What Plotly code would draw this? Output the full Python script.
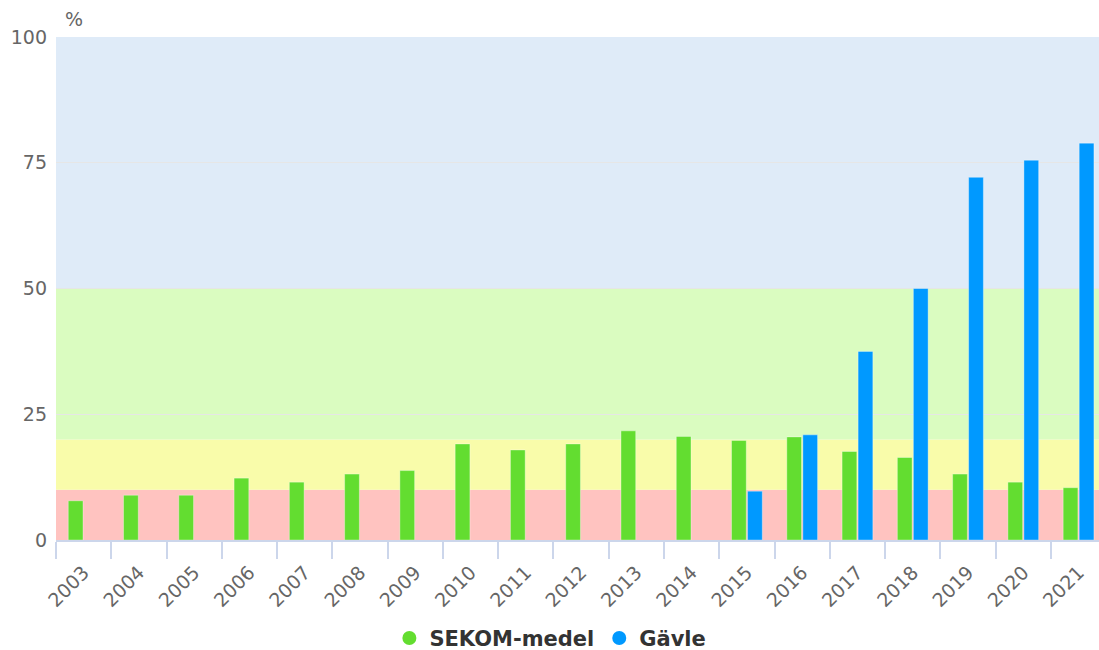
import plotly.graph_objects as go

years = [str(y) for y in range(2003, 2022)]
sekom_medel = [7.8, 8.9, 8.9, 12.3, 11.5, 13.1, 13.8, 19.1, 17.9, 19.1, 21.7, 20.6,
               19.8, 20.5, 17.6, 16.4, 13.1, 11.5, 10.4]
gavle = [None] * 12 + [9.7, 20.9, 37.5, 50.0, 72.1, 75.5, 78.9]

# value bands behind the bars: (from, to, colour)
bands = [
    (0, 10, "#FFC3C0"),
    (10, 20, "#F9FCAA"),
    (20, 50, "#DAFCC0"),
    (50, 100, "#DFEBF8"),
]

GREEN = "#63DD30"
BLUE = "#0099FF"
FONT = "DejaVu Sans"

fig = go.Figure()
fig.add_trace(go.Bar(x=years, y=sekom_medel, name="SEKOM-medel", marker_color=GREEN,
                     marker_line=dict(color="rgba(255,255,255,0.35)", width=1),
                     showlegend=False))
fig.add_trace(go.Bar(x=years, y=gavle, name="Gävle", marker_color=BLUE,
                     marker_line=dict(color="rgba(255,255,255,0.35)", width=1),
                     showlegend=False))

# round legend symbols
for name, col in [("SEKOM-medel", GREEN), ("Gävle", BLUE)]:
    fig.add_trace(go.Scatter(x=[None], y=[None], mode="markers", name=f"<b>{name}</b>",
                             marker=dict(color=col, size=14, symbol="circle")))

for lo, hi, col in bands:
    fig.add_shape(type="rect", xref="paper", yref="y", x0=0, x1=1, y0=lo, y1=hi,
                  fillcolor=col, line_width=0, layer="below")

fig.add_annotation(text="%", xref="paper", yref="paper", x=0.017, y=1.036,
                   xanchor="center", yanchor="middle",
                   showarrow=False, font=dict(family=FONT, size=19, color="#666666"))

fig.update_layout(
    width=1099, height=650,
    margin=dict(l=56, r=0, t=37, b=110, autoexpand=False),
    paper_bgcolor="white", plot_bgcolor="white",
    barmode="group", bargap=0.42, bargroupgap=0.08,
    font=dict(family=FONT, color="#666666"),
    legend=dict(orientation="h", x=0.474, xanchor="center",
                yref="container", y=0.018, yanchor="middle",
                font=dict(family=FONT, size=21, color="#333333"), itemsizing="trace"),
    xaxis=dict(type="category", range=[-0.5, 18.37], tickangle=-45, automargin=False,
               tickfont=dict(size=19, color="#666666"),
               showgrid=False, showline=True, linecolor="#CCD6EB", linewidth=2,
               ticks="outside", tickson="boundaries", ticklen=17, tickcolor="#CCD6EB",
               tickwidth=2, ticklabelstandoff=12),
    yaxis=dict(range=[0, 100], tickvals=[0, 25, 50, 75, 100], automargin=False,
               tickfont=dict(size=19, color="#666666"),
               showgrid=True, gridcolor="#E6E6E6", gridwidth=1, zeroline=False,
               ticks="", ticklabelstandoff=8),
)

fig.write_html("out.html")
